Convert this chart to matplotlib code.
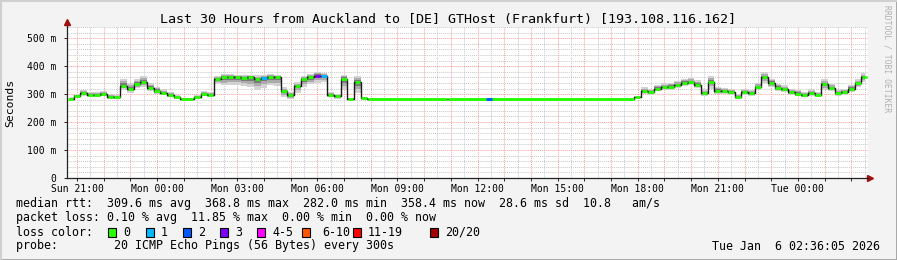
import numpy as np
import pandas as pd
import matplotlib
matplotlib.use("Agg")
import matplotlib.pyplot as plt
import matplotlib.dates as mdates
from matplotlib.ticker import MultipleLocator, FuncFormatter
from matplotlib.patches import Rectangle
from matplotlib.lines import Line2D

# -------------------------------
# DATA (15 min steps, ms)
# -------------------------------
start = pd.Timestamp("2026-01-04 20:37:30")
end = pd.Timestamp("2026-01-06 02:37:30")

median_rtt = [
    282, 292, 303, 297, 296, 300, 290, 288, 330, 320,
    335, 342, 322, 312, 305, 296, 288, 282, 282, 288,
    300, 298, 355, 361, 362, 360, 359, 360, 355, 358,
    361, 360, 310, 296, 330, 354, 360, 366, 365, 296,
    292, 355, 282, 343, 285, 282, 282, 282, 282, 282,
    282, 282, 282, 282, 282, 282, 282, 284, 284, 284,
    284, 284, 284, 284, 284, 284, 284, 284, 284, 284,
    284, 284, 284, 284, 284, 284, 284, 284, 284, 284,
    284, 284, 284, 284, 284, 288, 312, 307, 320, 325,
    326, 333, 340, 343, 334, 305, 345, 312, 310, 307,
    290, 308, 303, 325, 360, 340, 323, 318, 307, 302,
    296, 305, 297, 335, 322, 305, 308, 320, 338, 360,
]

# smoke extent above / below the median
smoke_up = [
    6, 10, 12, 10, 10, 10, 10, 10, 25, 20,
    20, 22, 18, 15, 12, 10, 8, 4, 4, 8,
    12, 10, 10, 10, 10, 10, 8, 10, 12, 10,
    10, 10, 15, 12, 12, 10, 12, 12, 10, 12,
    10, 15, 5, 20, 5, 0, 0, 0, 0, 0,
    0, 0, 0, 0, 0, 0, 0, 0, 0, 0,
    0, 0, 0, 0, 0, 0, 0, 0, 0, 0,
    0, 0, 0, 0, 0, 0, 0, 0, 0, 0,
    0, 0, 0, 0, 0, 5, 12, 12, 12, 14,
    14, 14, 15, 15, 15, 12, 20, 14, 12, 12,
    12, 12, 12, 15, 18, 15, 14, 14, 12, 12,
    12, 12, 12, 18, 14, 12, 12, 14, 15, 15,
]
smoke_dn = [
    3, 6, 8, 8, 8, 8, 8, 6, 15, 15,
    12, 15, 12, 10, 8, 8, 6, 2, 2, 5,
    8, 8, 20, 30, 30, 28, 30, 35, 40, 35,
    30, 30, 20, 15, 25, 30, 25, 25, 20, 8,
    8, 40, 0, 40, 2, 0, 0, 0, 0, 0,
    0, 0, 0, 0, 0, 0, 0, 0, 0, 0,
    0, 0, 0, 0, 0, 0, 0, 0, 0, 0,
    0, 0, 0, 0, 0, 0, 0, 0, 0, 0,
    0, 0, 0, 0, 0, 3, 10, 10, 10, 12,
    12, 12, 12, 12, 12, 10, 25, 12, 10, 10,
    8, 10, 10, 12, 20, 15, 12, 12, 10, 10,
    8, 10, 8, 20, 12, 10, 10, 12, 12, 15,
]

# lost pings per step
loss = [0] * 120
loss[29] = 1
loss[37] = 3
loss[38] = 1
loss[63] = 2

loss_labels = ["0", "1", "2", "3", "4-5", "6-10", "11-19", "20/20"]
loss_colors = ["#26ff00", "#00b8ff", "#0059ff", "#7e00ff",
               "#ff00ff", "#ff5500", "#ff0000", "#a10000"]

title = "Last 30 Hours from Auckland to [DE] GTHost (Frankfurt) [193.108.116.162]"

# -------------------------------
# FIGURE
# -------------------------------
mono = "DejaVu Sans Mono"
W, H = 897, 260
fig = plt.figure(figsize=(W / 100, H / 100), dpi=100, facecolor="#f3f3f3")
ax = fig.add_axes([67 / W, 82 / H, (868 - 67) / W, (178 - 27) / H])
ax.set_facecolor("white")

times = pd.date_range(start, periods=len(median_rtt), freq="15min") + pd.Timedelta(minutes=7.5)
x = mdates.date2num(times.to_pydatetime())
med = np.array(median_rtt, dtype=float)
up = np.array(smoke_up, dtype=float)
dn = np.array(smoke_dn, dtype=float)

# smoke
for frac, col in [(1.0, "#d2d2d2"), (0.65, "#ababab"), (0.35, "#7a7a7a")]:
    ax.fill_between(x, med - dn * frac, med + up * frac, step="mid", color=col, lw=0, zorder=2)

# median line + loss coloured segments
ax.step(x, med, where="mid", color="#1a1a1a", lw=1.0, zorder=3)
half = 6.0 / 1440
seg_cols = [loss_colors[l] for l in loss]
ax.hlines(med, x - half, x + half, colors=seg_cols, lw=2.0, zorder=4)
# keep the flat stretches continuous
flat = [i for i in range(1, len(med)) if med[i] == med[i - 1]]
ax.hlines(med[flat], x[flat] - 2 * half, x[flat], colors=[seg_cols[i] for i in flat], lw=2.0, zorder=4)

# axes
ax.set_xlim(mdates.date2num(start.to_pydatetime()), mdates.date2num(end.to_pydatetime()))
ax.set_ylim(0, 540)
ax.xaxis.set_major_locator(mdates.HourLocator())
ax.xaxis.set_minor_locator(mdates.MinuteLocator(byminute=[30]))
ax.xaxis.set_major_formatter(FuncFormatter(
    lambda v, p: mdates.num2date(v).strftime("%a %H:%M") if mdates.num2date(v).hour % 3 == 0 else ""))
ax.yaxis.set_major_locator(MultipleLocator(100))
ax.yaxis.set_minor_locator(MultipleLocator(20))
ax.yaxis.set_major_formatter(FuncFormatter(lambda v, p: "0" if v == 0 else "%d m" % v))

ax.set_axisbelow(True)
ax.grid(which="major", color="#ff9e9e", ls=(0, (1, 1)), lw=0.7)
ax.grid(which="minor", color="#c8c8c8", ls=(0, (1, 1)), lw=0.7)

for s in ["top", "right"]:
    ax.spines[s].set_visible(False)
for s in ["left", "bottom"]:
    ax.spines[s].set_color("#222222")
    ax.spines[s].set_linewidth(0.9)

ax.tick_params(which="major", length=2, width=0.7, color="#222222", labelsize=7, pad=2)
ax.tick_params(axis="y", which="major", pad=6)
ax.tick_params(which="minor", length=0)
for lab in ax.get_xticklabels() + ax.get_yticklabels():
    lab.set_family(mono)

# arrows at the axis ends
ax.add_line(Line2D([0, 0], [1, 1.03], transform=ax.transAxes, color="#222222", lw=0.9, clip_on=False))
ax.plot([0], [1.033], marker="^", ms=4, color="#a01010", transform=ax.transAxes, clip_on=False)
ax.plot([1.003], [0], marker=">", ms=4, color="#a01010", transform=ax.transAxes, clip_on=False)

# -------------------------------
# TEXT
# -------------------------------
fig.text(448 / W, 1 - 19 / H, title, ha="center", va="center", fontsize=9.6, family=mono)
fig.text(10 / W, 1 - 103 / H, "Seconds", rotation=90, ha="center", va="center", fontsize=8.2, family=mono)
fig.text(887 / W, 1 - 5 / H, "RRDTOOL / TOBI OETIKER", rotation=270, ha="center", va="top",
         fontsize=5.8, family=mono, color="#b0b0b0")

lines = [
    "median rtt:  309.6 ms avg  368.8 ms max  282.0 ms min  358.4 ms now  28.6 ms sd  10.8   am/s",
    "packet loss: 0.10 % avg  11.85 % max  0.00 % min  0.00 % now",
    "loss color:",
    "probe:        20 ICMP Echo Pings (56 Bytes) every 300s",
]
for i, t in enumerate(lines):
    fig.text(16 / W, 1 - (204 + 14 * i) / H, t, ha="left", va="center", fontsize=8.4, family=mono)

box_x = [108, 146, 183, 220, 257, 302, 353, 430]
lab_x = [123, 161, 198, 235, 272, 322, 368, 445]
for bx, lx, lab, col in zip(box_x, lab_x, loss_labels, loss_colors):
    fig.add_artist(Rectangle((bx / W, 1 - 236.5 / H), 8 / W, 9 / H, transform=fig.transFigure,
                             facecolor=col, edgecolor="black", lw=0.8))
    fig.text(lx / W, 1 - 232 / H, lab, ha="left", va="center", fontsize=8.4, family=mono)

fig.text(880 / W, 1 - 246 / H, "Tue Jan  6 02:36:05 2026", ha="right", va="center", fontsize=8.4, family=mono)

# frame
fig.add_artist(Line2D([0, 1], [0.5 / H, 0.5 / H], transform=fig.transFigure, color="#a0a0a0", lw=2))
fig.add_artist(Line2D([1 - 0.5 / W, 1 - 0.5 / W], [0, 1], transform=fig.transFigure, color="#a0a0a0", lw=2))
fig.add_artist(Line2D([0, 1], [1 - 0.5 / H, 1 - 0.5 / H], transform=fig.transFigure, color="#d0d0d0", lw=1.5))
fig.add_artist(Line2D([0.5 / W, 0.5 / W], [0, 1], transform=fig.transFigure, color="#d0d0d0", lw=1.5))

fig.savefig("out.png", dpi=100, facecolor=fig.get_facecolor())
